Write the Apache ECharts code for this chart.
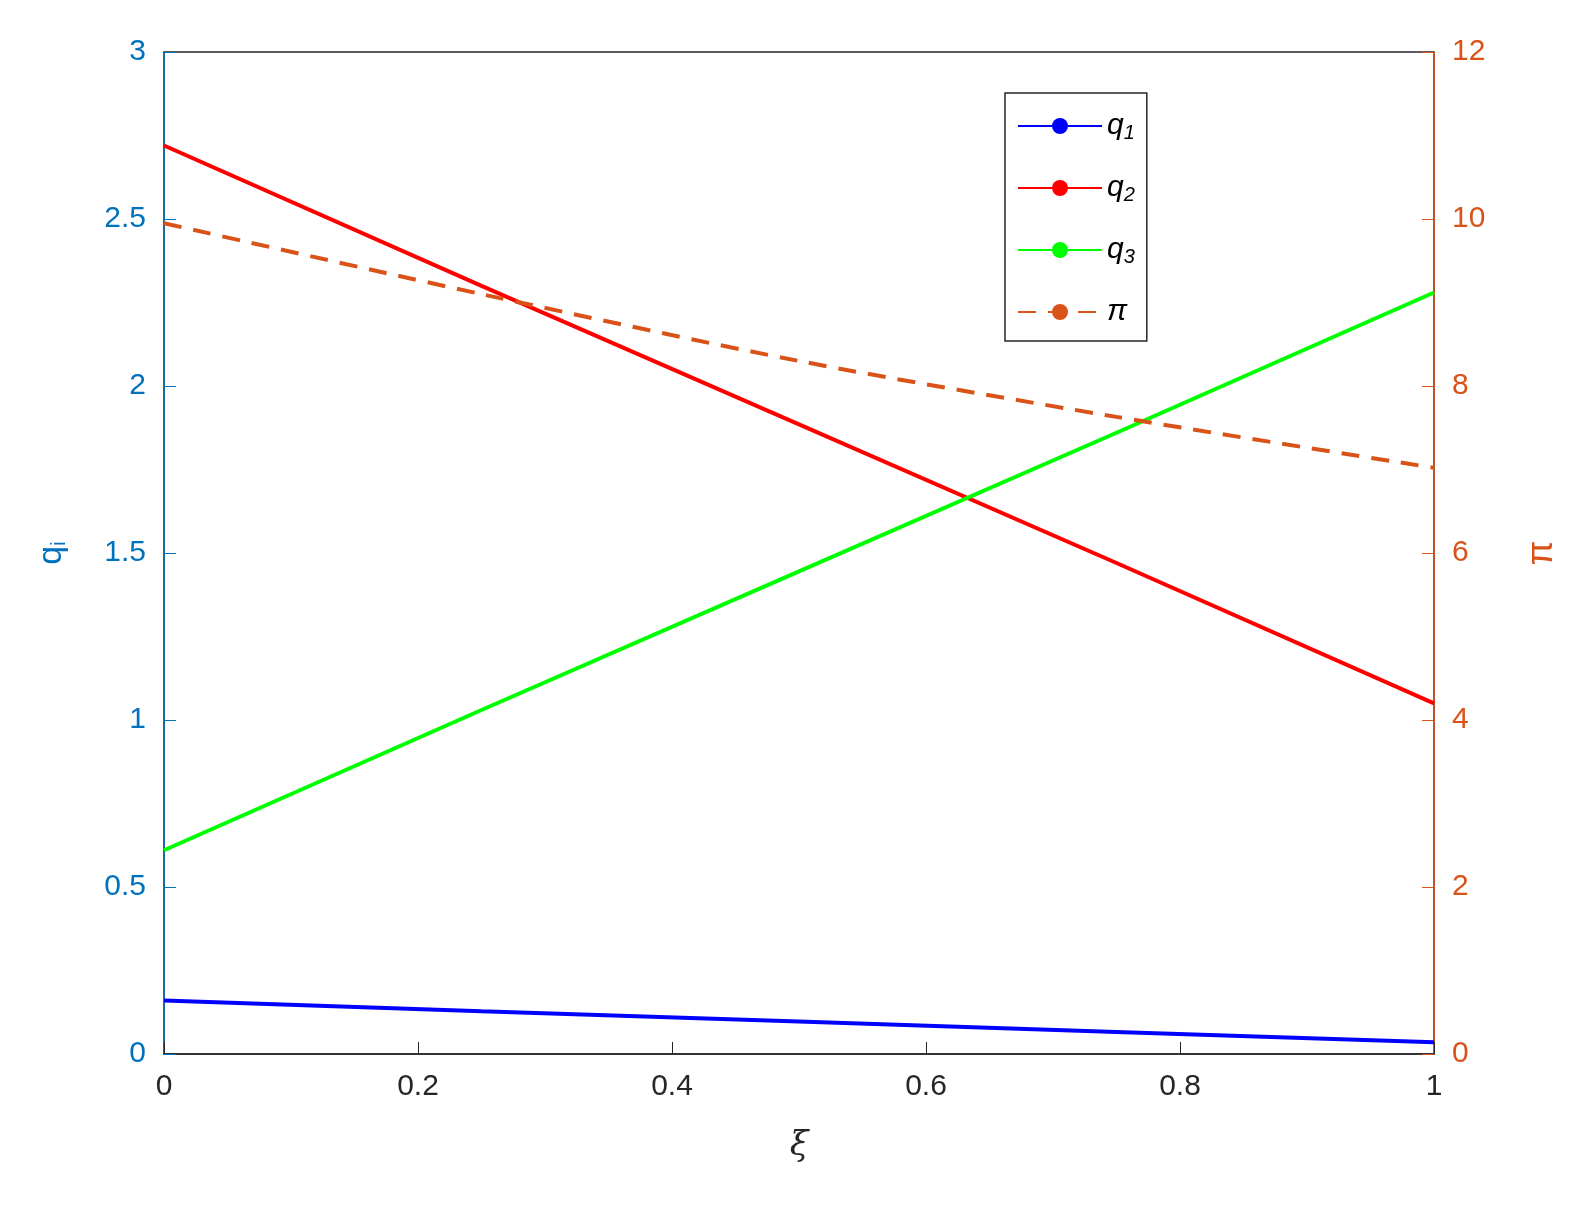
<!DOCTYPE html>
<html><head><meta charset="utf-8">
<script src="https://cdn.jsdelivr.net/npm/echarts@6/dist/echarts.min.js"></script>
<style>html,body{margin:0;background:#fff}#c{width:1579px;height:1207px}</style>
</head><body><div id="c"></div>
<script>
const xs = [0, 0.25, 0.5, 0.75, 1];
const q1 = [0.16, 0.128, 0.097, 0.066, 0.035];
const q2 = [2.72, 2.30, 1.885, 1.47, 1.05];
const q3 = [0.61, 1.03, 1.445, 1.86, 2.28];
const piVals = [9.95, 9.1, 8.3, 7.63, 7.02];
const xTicks = [0, 0.2, 0.4, 0.6, 0.8, 1];

const pair = a => xs.map((x, i) => [x, a[i]]);
const chart = echarts.init(document.getElementById('c'));
const font = 'Liberation Sans, Arial, sans-serif';
chart.setOption({
  animation: false,
  grid: {left: 164, right: 145, top: 52, bottom: 153, show: true, borderColor: '#262626', borderWidth: 1.5},
  xAxis: {type: 'value', min: 0, max: 1, interval: 0.2,
    name: 'ξ', nameLocation: 'middle', nameGap: 75,
    nameTextStyle: {fontSize: 34, fontStyle: 'italic', color: '#262626', fontFamily: 'DejaVu Serif'},
    axisLine: {lineStyle: {color: '#262626', width: 1.5}},
    axisTick: {inside: true, length: 12, lineStyle: {color: '#262626'}},
    axisLabel: {fontSize: 30, color: '#262626', fontFamily: font, margin: 18,
      formatter: v => xTicks.includes(+v.toFixed(1)) ? String(+v.toFixed(1)) : ''},
    splitLine: {show: false}},
  yAxis: [
    {type: 'value', min: 0, max: 3, interval: 0.5, position: 'left',
      name: '{a|q}{b|i}', nameLocation: 'middle', nameGap: 95, nameRotate: 90,
      nameTextStyle: {color: '#0072BD', rich: {a: {fontSize: 34, color: '#0072BD', fontFamily: font}, b: {fontSize: 20, color: '#0072BD', verticalAlign: 'bottom', padding:[0,0,0,0]}}},
      axisLine: {show: true, lineStyle: {color: '#0072BD', width: 1.5}},
      axisTick: {inside: true, length: 12, lineStyle: {color: '#0072BD'}},
      axisLabel: {fontSize: 30, color: '#0072BD', fontFamily: font, margin: 18},
      splitLine: {show: false}},
    {type: 'value', min: 0, max: 12, interval: 2, position: 'right',
      name: 'π', nameLocation: 'middle', nameGap: 90, nameRotate: 90,
      nameTextStyle: {fontSize: 36, color: '#D95319', fontFamily: font},
      axisLine: {show: true, lineStyle: {color: '#D95319', width: 1.5}},
      axisTick: {inside: true, length: 12, lineStyle: {color: '#D95319'}},
      axisLabel: {fontSize: 30, color: '#D95319', fontFamily: font, margin: 18},
      splitLine: {show: false}}
  ],
  legend: {orient: 'vertical', left: 1005, top: 93, width: 153,
    backgroundColor: '#fff', borderColor: '#262626', borderWidth: 1.5,
    padding: [18, 12, 14, 12], itemGap: 30, itemWidth: 84, itemHeight: 20,
    formatter: n => n === 'π' ? '{i|π}' : '{i|q}{s|' + n.slice(1) + '}',
    textStyle: {rich: {i: {fontSize: 30, fontStyle: 'italic', color: '#000', fontFamily: font},
      s: {fontSize: 20, fontStyle: 'italic', color: '#000', verticalAlign: 'bottom', padding: [14,0,0,0]}}},
    data: ['q1', 'q2', 'q3', 'π']},
  series: [
    {name: 'q1', type: 'line', data: pair(q1), symbol: 'none', lineStyle: {color: '#0000FF', width: 4}, itemStyle: {color: '#0000FF'}},
    {name: 'q2', type: 'line', data: pair(q2), symbol: 'none', lineStyle: {color: '#FF0000', width: 4}, itemStyle: {color: '#FF0000'}},
    {name: 'q3', type: 'line', data: pair(q3), symbol: 'none', lineStyle: {color: '#00FF00', width: 4}, itemStyle: {color: '#00FF00'}},
    {name: 'π', type: 'line', yAxisIndex: 1, data: pair(piVals), smooth: 0.3, symbol: 'none', lineStyle: {color: '#D95319', width: 4, type: [18, 12]}, itemStyle: {color: '#D95319'}}
  ]
});
</script></body></html>
